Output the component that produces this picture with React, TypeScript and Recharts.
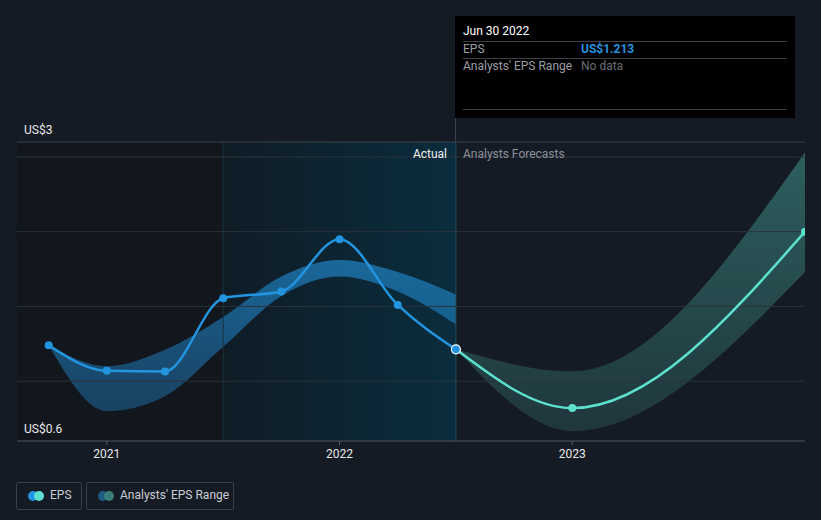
import { ComposedChart, Line, Area, XAxis, YAxis, ReferenceLine, ReferenceArea } from "recharts";

// quarter-end dates as fractional years
const actualDates = [2020.75, 2021.0, 2021.25, 2021.5, 2021.75, 2022.0, 2022.25, 2022.5];
const epsValues = [1.24, 1.07, 1.065, 1.555, 1.6, 1.95, 1.51, 1.213];
const epsLow = [1.24, 0.8, 0.9, 1.23, 1.57, 1.7, 1.6, 1.38];
const epsHigh = [1.24, 1.1, 1.21, 1.43, 1.7, 1.81, 1.73, 1.58];

const forecastDates = [2022.5, 2023.0, 2024.0];
const forecastValues = [1.213, 0.82, 2.0];
const forecastLow = [1.213, 0.666, 1.73];
const forecastHigh = [1.213, 1.066, 2.53];

const yearTicks = [2021, 2022, 2023];
const yLabelTicks = [0.6, 2.6];
const gridValues = [1, 1.5, 2, 2.5];

const FONT = "Roboto, 'Noto Sans', sans-serif";
const BLUE = "#2394df";
const TEAL = "#5ce1cf";

const allDates = Array.from(new Set([...actualDates, ...forecastDates])).sort((a, b) => a - b);
const data = allDates.map((t) => {
  const i = actualDates.indexOf(t);
  const j = forecastDates.indexOf(t);
  return {
    t,
    eps: i >= 0 ? epsValues[i] : null,
    epsRange: i >= 0 ? [epsLow[i], epsHigh[i]] : null,
    forecast: j >= 0 ? forecastValues[j] : null,
    forecastRange: j >= 0 ? [forecastLow[j], forecastHigh[j]] : null,
  };
});

const lastActual = actualDates[actualDates.length - 1];

const fmtUsd = (v: number) => `US$${Number(v.toPrecision(1))}`;

function EpsDot(props: any) {
  const { cx, cy, index, payload } = props;
  if (cx == null || cy == null || payload.eps == null) return <g key={`e-${index}`} />;
  const isLast = payload.t === lastActual;
  return (
    <circle
      key={`e-${index}`}
      cx={cx}
      cy={cy}
      r={isLast ? 4.5 : 4}
      fill={BLUE}
      stroke={isLast ? "#ffffff" : BLUE}
      strokeWidth={isLast ? 1.2 : 0}
    />
  );
}

function ForecastDot(props: any) {
  const { cx, cy, index, payload } = props;
  if (cx == null || cy == null || payload.forecast == null || payload.t === lastActual)
    return <g key={`f-${index}`} />;
  return <circle key={`f-${index}`} cx={cx} cy={cy} r={4} fill={TEAL} />;
}

export default function App() {
  return (
    <div
      style={{
        position: "absolute",
        left: 0,
        top: 0,
        width: 821,
        height: 520,
        background: "#151b24",
        fontFamily: FONT,
        overflow: "hidden",
      }}
    >
      <ComposedChart
        width={821}
        height={520}
        data={data}
        margin={{ top: 142, right: 16, bottom: 49, left: 17 }}
      >
        <defs>
          <linearGradient id="pastShade" x1="0" y1="0" x2="1" y2="0">
            <stop offset="0%" stopColor="#0f1c26" />
            <stop offset="100%" stopColor="#0a2d3d" />
          </linearGradient>
          <linearGradient id="epsBand" x1="0" y1="0" x2="0" y2="1">
            <stop offset="0%" stopColor={BLUE} stopOpacity={0.6} />
            <stop offset="100%" stopColor={BLUE} stopOpacity={0.35} />
          </linearGradient>
          <linearGradient id="fcBand" x1="0" y1="0" x2="0" y2="1">
            <stop offset="0%" stopColor={TEAL} stopOpacity={0.34} />
            <stop offset="100%" stopColor={TEAL} stopOpacity={0.14} />
          </linearGradient>
        </defs>
        <XAxis
          dataKey="t"
          type="number"
          domain={[2020.614, 2024]}
          ticks={yearTicks}
          allowDataOverflow
          height={30}
          axisLine={{ stroke: "#3d434c" }}
          tickLine={{ stroke: "#5a6069" }}
          tickSize={4}
          tickMargin={4}
          tick={{ fill: "#e8e8e8", fontSize: 12, fontFamily: FONT }}
        />
        <YAxis type="number" domain={[0.6, 2.6]} hide allowDataOverflow />
        <ReferenceArea x1={2020.614} x2={2021.5} y1={0.6} y2={2.6} fill="#12161d" fillOpacity={1} stroke="none" />
        <ReferenceArea x1={2021.5} x2={2022.5} y1={0.6} y2={2.6} fill="url(#pastShade)" fillOpacity={1} stroke="none" />
        <ReferenceLine x={2021.5} stroke="#1a3442" strokeWidth={1} />
        {gridValues.map((v) => (
          <ReferenceLine key={v} y={v} stroke="#2c323b" strokeWidth={1} />
        ))}
        <ReferenceLine x={2022.5} stroke="#24505f" strokeWidth={1} />
        {yLabelTicks.map((v) => (
          <ReferenceLine
            key={`lab-${v}`}
            y={v}
            stroke="#3d434c"
            strokeWidth={1}
            label={(p: any) => (
              <text
                x={p.viewBox.x + 7}
                y={p.viewBox.y - 8}
                fill="#e8e8e8"
                fontSize={12}
                fontFamily={FONT}
              >
                {fmtUsd(v)}
              </text>
            )}
          />
        ))}
        <Area
          dataKey="forecastRange"
          type="monotone"
          fill="url(#fcBand)"
          fillOpacity={1}
          stroke="none"
          isAnimationActive={false}
          activeDot={false}
        />
        <Area
          dataKey="epsRange"
          type="monotone"
          fill="url(#epsBand)"
          fillOpacity={1}
          stroke="none"
          isAnimationActive={false}
          activeDot={false}
        />
        <Line
          dataKey="forecast"
          type="monotone"
          stroke={TEAL}
          strokeWidth={2.5}
          dot={<ForecastDot />}
          activeDot={false}
          isAnimationActive={false}
        />
        <Line
          dataKey="eps"
          type="monotone"
          stroke={BLUE}
          strokeWidth={2.5}
          dot={<EpsDot />}
          activeDot={false}
          isAnimationActive={false}
        />
      </ComposedChart>

      {/* section labels */}
      <div style={{ position: "absolute", right: 821 - 447, top: 147, fontSize: 12, color: "#f0f0f0" }}>Actual</div>
      <div style={{ position: "absolute", left: 463, top: 147, fontSize: 12, color: "#8b9098" }}>Analysts Forecasts</div>

      {/* tooltip */}
      <div style={{ position: "absolute", left: 455, top: 118, width: 1, height: 24, background: "#39434d" }} />
      <div
        style={{
          position: "absolute",
          left: 455,
          top: 16,
          width: 340,
          height: 102,
          background: "#000000",
          fontSize: 12,
        }}
      >
        <div style={{ position: "absolute", left: 8, top: 8, color: "#ffffff" }}>Jun 30 2022</div>
        <div style={{ position: "absolute", left: 8, top: 25, width: 324, height: 1, background: "#3c3f44" }} />
        <div style={{ position: "absolute", left: 8, top: 26, color: "#9a9ea4" }}>EPS</div>
        <div style={{ position: "absolute", left: 126, top: 26, color: BLUE, fontWeight: 700 }}>US$1.213</div>
        <div style={{ position: "absolute", left: 8, top: 42, width: 324, height: 1, background: "#3c3f44" }} />
        <div style={{ position: "absolute", left: 8, top: 43, color: "#9a9ea4" }}>Analysts' EPS Range</div>
        <div style={{ position: "absolute", left: 126, top: 43, color: "#6a6e74" }}>No data</div>
        <div style={{ position: "absolute", left: 8, top: 93, width: 324, height: 1, background: "#3c3f44" }} />
      </div>

      {/* legend */}
      <div
        style={{
          position: "absolute",
          left: 16,
          top: 482,
          width: 64,
          height: 26,
          border: "1px solid #3a404a",
          borderRadius: 2,
        }}
      >
        <span style={{ position: "absolute", left: 11, top: 8, width: 10, height: 10, borderRadius: 5, background: BLUE }} />
        <span style={{ position: "absolute", left: 17, top: 8, width: 10, height: 10, borderRadius: 5, background: TEAL }} />
        <span style={{ position: "absolute", left: 33, top: 5, fontSize: 12, color: "#c9cdd3" }}>EPS</span>
      </div>
      <div
        style={{
          position: "absolute",
          left: 86,
          top: 482,
          width: 146,
          height: 26,
          border: "1px solid #3a404a",
          borderRadius: 2,
        }}
      >
        <span style={{ position: "absolute", left: 11, top: 8, width: 10, height: 10, borderRadius: 5, background: "#1f5a85" }} />
        <span style={{ position: "absolute", left: 17, top: 8, width: 10, height: 10, borderRadius: 5, background: "#3b7d78" }} />
        <span style={{ position: "absolute", left: 33, top: 5, fontSize: 12, color: "#c9cdd3" }}>Analysts' EPS Range</span>
      </div>
    </div>
  );
}
